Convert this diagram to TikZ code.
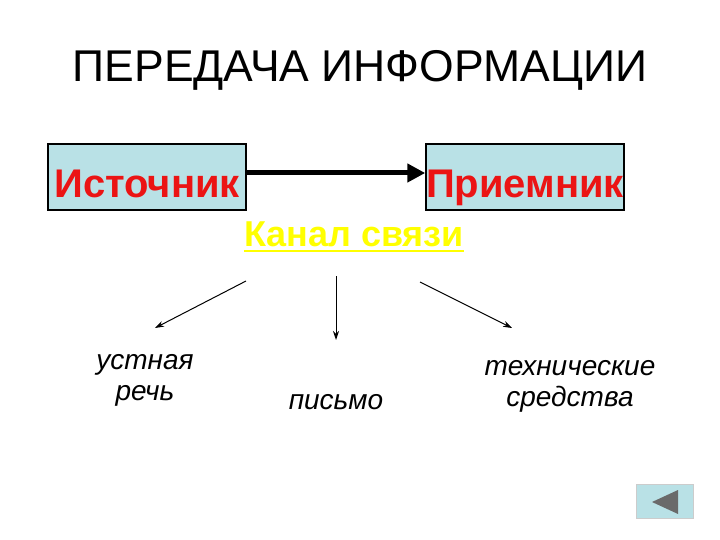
\documentclass[tikz,border=0pt]{standalone}
\usepackage{fontspec}
\setmainfont{Liberation Sans}
\usetikzlibrary{arrows.meta}
\definecolor{boxfill}{RGB}{185,225,230}
\definecolor{redtxt}{RGB}{235,20,20}
\definecolor{yel}{RGB}{255,255,0}
\tikzset{
 box/.style={draw=black,line width=1.5pt,fill=boxfill,minimum width=198pt,minimum height=66pt,inner sep=0pt},
 boxtxt/.style={font=\fontsize{40}{44}\selectfont\bfseries,text=redtxt,inner sep=0pt},
 lbl/.style={font=\fontsize{28}{31}\selectfont\itshape,align=center},
 thin/.style={-{Stealth[length=9pt,width=6pt]},line width=1pt}
}
\begin{document}
\begin{tikzpicture}[x=1pt,y=-1pt]
\useasboundingbox (0,0) rectangle (720,540);
\fill[white] (0,0) rectangle (720,540);
\node (title) at (360,70) {\fontsize{44.5}{50}\selectfont ПЕРЕДАЧА ИНФОРМАЦИИ};
\node[box] (src) at (147,177) {};
\node[box] (dst) at (525,177) {};
\node[boxtxt,anchor=base] (srct) at (147,197) {Источник};
\node[boxtxt,anchor=base] (dstt) at (525,197) {Приемник};
\draw[-{Triangle[length=18pt,width=18pt]},line width=5pt] (src.east |- 0,173) -- (dst.west |- 0,173);
\node[font=\fontsize{36}{40}\selectfont\bfseries,text=yel,inner sep=0pt,anchor=base] (chan) at (354,247) {Канал связи};
\draw[yel,line width=2.5pt] (chan.base west) ++(0,4) -- ([yshift=-4pt]chan.base east);
\coordinate (a1) at (246,281); \coordinate (a2) at (336,276); \coordinate (a3) at (420,282);
\node[lbl] (t1) at (145,380) {устная\\речь};
\node[lbl] (t2) at (336,402) {письмо};
\node[lbl] (t3) at (570,386) {технические\\средства};
\draw[thin] (a1) -- (155,328);
\draw[thin] (a2) -- (336,340);
\draw[thin] (a3) -- (512,328);
\node[draw=gray!40,fill=boxfill,minimum width=57pt,minimum height=34pt,inner sep=0pt] (btn) at (665,501) {};
\fill[gray!70!black!90] (652,502) -- (678,490) -- (678,514) -- cycle;
\end{tikzpicture}
\end{document}
